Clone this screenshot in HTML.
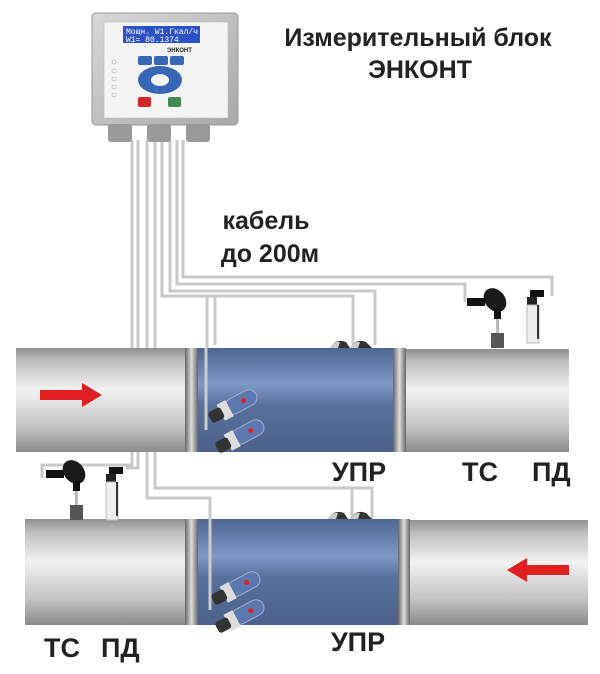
<!DOCTYPE html>
<html><head><meta charset="utf-8"><style>
html,body{margin:0;padding:0;background:#fff;}
svg{display:block;}
text{font-family:"Liberation Sans",sans-serif;font-weight:bold;fill:#222;}
</style></head><body>
<svg width="600" height="674" viewBox="0 0 600 674" xmlns="http://www.w3.org/2000/svg">
<defs>
<linearGradient id="pg" x1="0" y1="0" x2="0" y2="1">
<stop offset="0" stop-color="#8f8f8f"/><stop offset="0.12" stop-color="#bdbdbd"/><stop offset="0.4" stop-color="#f2f2f2"/><stop offset="0.75" stop-color="#c4c4c4"/><stop offset="1" stop-color="#8a8a8a"/>
</linearGradient>
<linearGradient id="bg" x1="0" y1="0" x2="0" y2="1">
<stop offset="0" stop-color="#4d6591"/><stop offset="0.35" stop-color="#7f98c6"/><stop offset="0.55" stop-color="#58709c"/><stop offset="1" stop-color="#4c628c"/>
</linearGradient>
<linearGradient id="fg" x1="0" y1="0" x2="1" y2="0">
<stop offset="0" stop-color="#666"/><stop offset="0.5" stop-color="#ddd"/><stop offset="1" stop-color="#666"/>
</linearGradient>
<linearGradient id="dg" x1="0" y1="0" x2="1" y2="1">
<stop offset="0" stop-color="#d8d8d8"/><stop offset="1" stop-color="#a8a8a8"/>
</linearGradient>
<g id="sens">
<rect x="0" y="-8" width="34" height="16" rx="8" fill="#5b79b0" stroke="#aac" stroke-width="1"/>
<circle cx="20" cy="0" r="2.5" fill="#e02020"/>
<rect x="-6" y="-9" width="10" height="18" fill="#ddd"/>
<rect x="-18" y="-6" width="14" height="12" rx="3" fill="#333"/>
</g>
<g id="tc">
<rect x="0" y="13" width="18" height="8" fill="#111"/>
<ellipse cx="28" cy="15" rx="13" ry="10" transform="rotate(50 28 15)" fill="#1a1a1a"/>
<rect x="27" y="24" width="7" height="10" fill="#111"/>
<rect x="29" y="34" width="3" height="16" fill="#bbb"/>
<rect x="24" y="48" width="13" height="15" fill="#555"/>
</g>
<g id="pd">
<rect x="3" y="0" width="14" height="7" fill="#111"/>
<rect x="0" y="7" width="10" height="8" fill="#222"/>
<rect x="0" y="15" width="12" height="38" fill="#eee" stroke="#bbb"/>
<rect x="10" y="15" width="2" height="34" fill="#333"/>
</g>
</defs>

<g fill="none" stroke="#c9c9c9" stroke-width="3">
<polyline points="183,140 183,277 552,277 552,296"/>
<polyline points="177,140 177,284 465,284 465,302"/>
<polyline points="170,140 170,291 375,291 375,345"/>
<polyline points="162,140 162,296 353,296 353,345"/>
<polyline points="207,296 207,418"/>
<polyline points="215,296 215,345"/>
<polyline points="132,140 132,465 42,465 42,478"/>
<polyline points="138,140 138,468 126,468"/>
<polyline points="147,140 147,498 210,498 210,610"/>
<polyline points="155,140 155,488 372,488 372,528"/>
<polyline points="352,488 352,528"/>
</g>

<rect x="16" y="348" width="172" height="104" fill="url(#pg)"/>
<rect x="405" y="349" width="164" height="103" fill="url(#pg)"/>
<rect x="185" y="348" width="13" height="104" fill="url(#fg)"/>
<rect x="393" y="348" width="13" height="104" fill="url(#fg)"/>
<rect x="198" y="348" width="195" height="104" fill="url(#bg)"/>
<line x1="206" y1="348" x2="206" y2="430" stroke="#ccc" stroke-width="3"/>
<polygon points="40,390 82,390 82,383 102,395 82,407 82,400 40,400" fill="#e02020"/>
<use href="#sens" transform="translate(226,410) rotate(-28)"/>
<use href="#sens" transform="translate(233,440) rotate(-28)"/>
<path d="M330 348 q6 -10 16 -6 l4 6z M350 348 q6 -10 16 -6 l6 6z" fill="#333"/>
<path d="M330 348 q4 -7 10 -6 l-2 6z M350 348 q4 -7 10 -6 l-2 6z" fill="#ccc"/>

<rect x="25" y="519" width="163" height="106" fill="url(#pg)"/>
<rect x="410" y="520" width="178" height="105" fill="url(#pg)"/>
<rect x="185" y="519" width="13" height="106" fill="url(#fg)"/>
<rect x="398" y="519" width="12" height="106" fill="url(#fg)"/>
<rect x="198" y="519" width="200" height="106" fill="url(#bg)"/>
<line x1="210" y1="519" x2="210" y2="610" stroke="#ccc" stroke-width="3"/>
<polygon points="569,565 527,565 527,558 507,570 527,582 527,575 569,575" fill="#e02020"/>
<use href="#sens" transform="translate(229,592) rotate(-28)"/>
<use href="#sens" transform="translate(233,620) rotate(-28)"/>
<path d="M328 519 q6 -10 16 -6 l4 6z M350 519 q6 -10 16 -6 l6 6z" fill="#333"/>
<path d="M328 519 q4 -7 10 -6 l-2 6z M350 519 q4 -7 10 -6 l-2 6z" fill="#ccc"/>

<use href="#tc" transform="translate(467,285)"/>
<use href="#pd" transform="translate(527,290)"/>
<use href="#tc" transform="translate(46,457)"/>
<use href="#pd" transform="translate(106,467)"/>

<rect x="92" y="13" width="146" height="112" rx="4" fill="url(#dg)" stroke="#999"/>
<rect x="104" y="22" width="124" height="96" fill="#f4f4f4" stroke="#bbb" stroke-width="0.6"/>
<rect x="123" y="26" width="77" height="17" fill="#2b52c8"/>
<text x="126" y="34" font-size="8" style="fill:#fff;font-family:'Liberation Mono',monospace;font-weight:normal">Мощн.  W1.Гкал/ч</text>
<text x="126" y="42" font-size="8" style="fill:#fff;font-family:'Liberation Mono',monospace;font-weight:normal">W1= 80.1374</text>
<text x="167" y="52" font-size="6">ЭНКОНТ</text>
<rect x="138" y="56" width="14" height="9" rx="2" fill="#3a66b8"/>
<rect x="154" y="56" width="14" height="9" rx="2" fill="#3a66b8"/>
<rect x="170" y="56" width="14" height="9" rx="2" fill="#3a66b8"/>
<ellipse cx="160" cy="80" rx="22" ry="14" fill="#3a66b8"/>
<ellipse cx="160" cy="80" rx="9" ry="6" fill="#f4f4f4"/>
<rect x="138" y="97" width="13" height="10" rx="2" fill="#d02828"/>
<rect x="168" y="97" width="13" height="10" rx="2" fill="#3e8a50"/>
<g fill="#fff" stroke="#999" stroke-width="0.6">
<circle cx="114" cy="62" r="2"/><circle cx="114" cy="71" r="2"/><circle cx="114" cy="79" r="2"/><circle cx="114" cy="87" r="2"/><circle cx="114" cy="95" r="2"/></g>
<g fill="#999"><rect x="108" y="124" width="24" height="18" rx="3"/><rect x="147" y="124" width="24" height="18" rx="3"/><rect x="186" y="124" width="24" height="18" rx="3"/></g>

<text x="418" y="46" font-size="25" text-anchor="middle">Измерительный блок</text>
<text x="420" y="78" font-size="25" text-anchor="middle">ЭНКОНТ</text>
<text x="266" y="229" font-size="25" text-anchor="middle">кабель</text>
<text x="270" y="262" font-size="25" text-anchor="middle">до 200м</text>
<text x="359" y="481" font-size="27" text-anchor="middle">УПР</text>
<text x="462" y="481" font-size="27">ТС</text>
<text x="532" y="481" font-size="27">ПД</text>
<text x="44" y="657" font-size="27">ТС</text>
<text x="101" y="657" font-size="27">ПД</text>
<text x="358" y="651" font-size="27" text-anchor="middle">УПР</text>
</svg>
</body></html>
